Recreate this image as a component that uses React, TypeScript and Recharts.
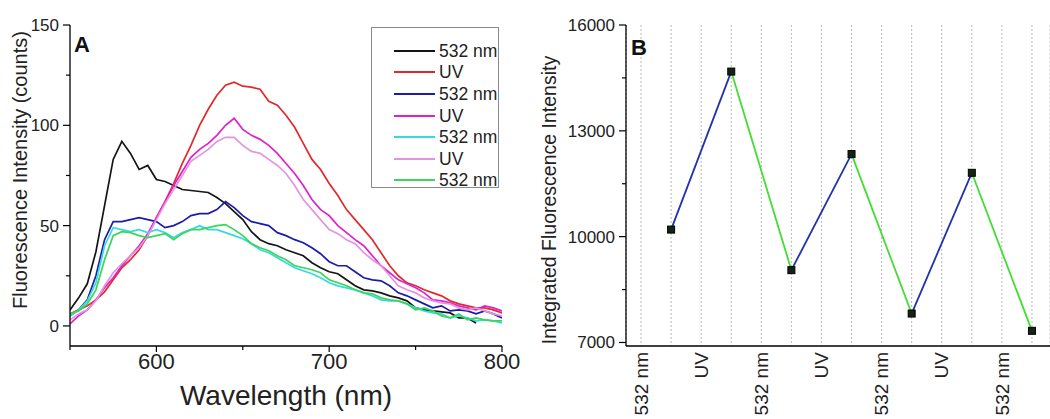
import React from "react";
import { LineChart, Line, XAxis, YAxis, Legend, CartesianGrid } from "recharts";

// Panel A: emission spectra, sampled every 5 nm
const wavelengths = [
  550, 555, 560, 565, 570, 575, 580, 585, 590, 595,
  600, 605, 610, 615, 620, 625, 630, 635, 640, 645,
  650, 655, 660, 665, 670, 675, 680, 685, 690, 695,
  700, 705, 710, 715, 720, 725, 730, 735, 740, 745,
  750, 755, 760, 765, 770, 775, 780, 785, 790, 795,
  800,
];

const black532 = [
  8, 14, 21, 37, 60, 83, 92, 86, 78, 80,
  73, 72, 70, 68, 67.5, 67, 66.5, 64, 61, 57,
  53, 47, 43, 41, 40, 38, 36.5, 35, 31.5, 29,
  27, 26, 23, 20, 18, 17.5, 16.5, 15, 14, 12.5,
  9, 8, 7.5, 7, 6.5, 4, 4, 1.5, null, null,
  null,
];
const redUV = [
  6, 8, 10, 13, 17, 23, 29, 33, 38, 45,
  54, 62, 71, 81, 90, 100, 108, 115, 120, 121.5,
  119.5, 119, 118, 112, 110, 105, 99, 91, 83, 78,
  71, 65, 58, 53, 48, 43, 36.5, 30, 25, 21.5,
  20, 18, 16.5, 15, 12.5, 11, 10, 9, 9, 8,
  6.5,
];
const blue532 = [
  5, 8, 13, 25, 43, 52, 52, 53, 54, 53,
  52, 49, 50, 52, 55, 56, 56, 58, 62, 59,
  55, 52, 51, 50, 46.5, 45, 43, 41.5, 39, 36,
  32, 30, 30, 27, 24, 23, 22.5, 20, 16.5, 15,
  13, 11, 9, 10, 7.5, 8, 7.5, 6, 7.5, 6,
  4,
];
const magentaUV = [
  1, 5, 8, 13, 19, 24, 30, 35, 40, 46,
  54, 62, 70, 77, 84, 88, 91, 95, 100, 103.5,
  98, 95, 93, 90, 86, 81, 76, 70, 63, 58,
  55, 50, 46.5, 43, 40, 35, 30, 26.5, 23, 21,
  19, 16.5, 13, 12.5, 11.5, 10, 9, 8, 10, 9,
  7.5,
];
const cyan532 = [
  5, 8, 12.5, 21.5, 40, 49, 48, 47, 48, 46.5,
  48, 46.5, 44, 46.5, 48, 50, 48, 48, 46.5, 45,
  43.5, 41, 38, 36.5, 34, 31.5, 29, 27.5, 26, 24,
  21.5, 20, 19, 18, 16.5, 15, 13, 12.5, 12.5, 11,
  9, 7.5, 6.5, 6, 4, 5, 4, 2.5, 3, 2.5,
  1.5,
];
const pinkUV = [
  3, 6, 8, 12.5, 20, 26.5, 31, 35, 39, 45,
  53, 61, 68, 75, 82, 85, 88, 92, 94, 94,
  90, 87, 86, 83, 80, 76, 70, 63, 58, 53,
  48, 46, 43, 41, 36.5, 33, 30, 25, 20, 18,
  16.5, 14, 12.5, 11.5, 11, 9, 8, 9, 7.5, 6,
  5,
];
const green532 = [
  6, 7.5, 11, 18, 33, 45, 47, 46.5, 45, 44,
  45, 46, 43, 46, 48, 48, 49, 50, 50.5, 48,
  45, 41, 39, 37.5, 35, 33, 30, 29, 28, 26.5,
  23, 21.5, 20, 18, 16.5, 16, 14, 13, 12.5, 11,
  8, 9, 7.5, 5, 4, 6, 3, 4, 3, 2.5,
  2.5,
];

const seriesA = [
  { key: "s1", name: "532 nm", color: "#151515", values: black532 },
  { key: "s2", name: "UV", color: "#e02a2a", values: redUV },
  { key: "s3", name: "532 nm", color: "#1c1ca8", values: blue532 },
  { key: "s4", name: "UV", color: "#dd22cc", values: magentaUV },
  { key: "s5", name: "532 nm", color: "#33dcdc", values: cyan532 },
  { key: "s6", name: "UV", color: "#e294e0", values: pinkUV },
  { key: "s7", name: "532 nm", color: "#3cd45a", values: green532 },
];

// Panel B: integrated intensity after each illumination step
const stepLabels = ["532 nm", "UV", "532 nm", "UV", "532 nm", "UV", "532 nm"];
const integrated = [10200, 14680, 9050, 12340, 7820, 11810, 7330];
const stepTicks = [0, 1, 2, 3, 4, 5, 6, 7, 8, 9, 10, 11, 12, 13];

const FONT = "'Liberation Sans', Arial, Helvetica, sans-serif";

const dataA = wavelengths.map((wl, i) => {
  const row: Record<string, number | null> = { wl };
  seriesA.forEach((s) => (row[s.key] = s.values[i]));
  return row;
});

// measurement k sits between the label ticks
const pointsB = integrated.map((v, k) => ({ x: 2 * k + 1, v }));
const segmentsB = pointsB.slice(0, -1).map((p, k) => ({
  color: k % 2 === 0 ? "#2233aa" : "#44dd33",
  data: [p, pointsB[k + 1]],
}));

const AYTick = ({ x, y, payload }: any) => {
  const major = payload.value % 50 === 0;
  return (
    <g>
      <line x1={x - (major ? 7 : 4)} x2={x} y1={y} y2={y} stroke="#000" strokeWidth={1.2} />
      {major && (
        <text x={x - 11} y={y} dy="0.35em" textAnchor="end" fontSize={17} fill="#222" fontFamily={FONT}>
          {payload.value}
        </text>
      )}
    </g>
  );
};

const AXTick = ({ x, y, payload }: any) => {
  const major = payload.value % 100 === 0;
  return (
    <g>
      <line x1={x} x2={x} y1={y} y2={y + (major ? 6 : 4)} stroke="#000" strokeWidth={1.2} />
      {major && (
        <text x={x} y={y + 23} textAnchor="middle" fontSize={22} fill="#222" fontFamily={FONT}>
          {payload.value}
        </text>
      )}
    </g>
  );
};

const BYTick = ({ x, y, payload }: any) => {
  const major = (payload.value - 7000) % 3000 === 0;
  return (
    <g>
      <line x1={x - (major ? 7 : 4)} x2={x} y1={y} y2={y} stroke="#000" strokeWidth={1.2} />
      {major && (
        <text x={x - 11} y={y} dy="0.35em" textAnchor="end" fontSize={17} fill="#222" fontFamily={FONT}>
          {payload.value}
        </text>
      )}
    </g>
  );
};

const BXTick = ({ x, y, payload }: any) => {
  const i = payload.value;
  if (i % 2 !== 0) return <g />;
  const ty = y + 6;
  return (
    <text
      x={x}
      y={ty}
      dy="0.35em"
      textAnchor="end"
      transform={`rotate(-90, ${x}, ${ty})`}
      fontSize={19}
      fill="#222"
      fontFamily={FONT}
    >
      {stepLabels[i / 2]}
    </text>
  );
};

const SquareDot = ({ cx, cy }: any) => (
  <rect x={cx - 3.5} y={cy - 3.5} width={7} height={7} fill="#142414" stroke="#000" strokeWidth={1} />
);

// legend keeps the plotting order (recharts would sort it by name)
const LegendBox = () => (
  <div
    style={{
      width: 128,
      height: 161,
      boxSizing: "border-box",
      border: "1px solid #8a8a8a",
      background: "#fff",
      paddingTop: 12,
      fontFamily: FONT,
    }}
  >
    {seriesA.map((s) => (
      <div key={s.key} style={{ display: "flex", alignItems: "center", height: 21.6 }}>
        <div style={{ marginLeft: 22, width: 41, height: 2, background: s.color }} />
        <span style={{ marginLeft: 4, fontSize: 17.5, color: "#222", lineHeight: "20px" }}>{s.name}</span>
      </div>
    ))}
  </div>
);

export default function App() {
  return (
    <div style={{ position: "absolute", left: 0, top: 0, width: 1050, height: 419, background: "#fff", overflow: "hidden" }}>
      <div style={{ position: "absolute", left: 0, top: 0 }}>
        <LineChart width={520} height={419} data={dataA} margin={{ top: 25, right: 18, bottom: 0, left: 0 }}>
          <XAxis
            dataKey="wl"
            type="number"
            domain={[550, 800]}
            ticks={[550, 600, 650, 700, 750, 800]}
            interval={0}
            tickSize={0}
            tickMargin={0}
            tick={<AXTick />}
            height={73}
            axisLine={{ stroke: "#000", strokeWidth: 1.3 }}
            allowDataOverflow
          />
          <XAxis xAxisId="top" orientation="top" type="number" dataKey="wl" domain={[550, 800]} height={0} tick={false} tickLine={false} axisLine={{ stroke: "#000", strokeWidth: 1.3 }} />
          <YAxis
            type="number"
            domain={[-10, 150]}
            ticks={[0, 25, 50, 75, 100, 125, 150]}
            interval={0}
            tickSize={0}
            tickMargin={0}
            tick={<AYTick />}
            width={70}
            axisLine={{ stroke: "#000", strokeWidth: 1.3 }}
            allowDataOverflow
          />
          <YAxis yAxisId="right" orientation="right" type="number" domain={[-10, 150]} width={0} tick={false} tickLine={false} axisLine={{ stroke: "#000", strokeWidth: 1.3 }} />
          {seriesA.map((s) => (
            <Line
              key={s.key}
              dataKey={s.key}
              name={s.name}
              stroke={s.color}
              strokeWidth={1.7}
              dot={false}
              activeDot={false}
              isAnimationActive={false}
            />
          ))}
          <Legend
            layout="vertical"
            align="center"
            verticalAlign="middle"
            content={<LegendBox />}
            wrapperStyle={{ left: 371, top: 27, width: 128, height: 161 }}
          />
        </LineChart>
      </div>

      <div style={{ position: "absolute", left: 520, top: 0 }}>
        <LineChart width={530} height={419} margin={{ top: 25, right: 0, bottom: 0, left: 0 }}>
          <CartesianGrid horizontal={false} vertical stroke="#b8b8b8" strokeDasharray="2 2" />
          <XAxis
            dataKey="x"
            type="number"
            domain={[-0.5, 13.6]}
            ticks={stepTicks}
            interval={0}
            tickSize={0}
            tickMargin={0}
            tickLine={false}
            tick={<BXTick />}
            height={73}
            axisLine={{ stroke: "#000", strokeWidth: 1.3 }}
            allowDataOverflow
          />
          <XAxis xAxisId="top" orientation="top" type="number" dataKey="x" domain={[-0.5, 13.6]} height={0} tick={false} tickLine={false} axisLine={{ stroke: "#000", strokeWidth: 1.3 }} />
          <YAxis
            type="number"
            domain={[6900, 16000]}
            ticks={[7000, 8500, 10000, 11500, 13000, 14500, 16000]}
            interval={0}
            tickSize={0}
            tickMargin={0}
            tick={<BYTick />}
            width={106}
            axisLine={{ stroke: "#000", strokeWidth: 1.3 }}
            allowDataOverflow
          />
          {segmentsB.map((seg, k) => (
            <Line
              key={k}
              data={seg.data}
              dataKey="v"
              stroke={seg.color}
              strokeWidth={1.8}
              dot={false}
              activeDot={false}
              isAnimationActive={false}
            />
          ))}
          <Line data={pointsB} dataKey="v" stroke="none" dot={<SquareDot />} activeDot={false} isAnimationActive={false} />
        </LineChart>
      </div>

      <svg width={1050} height={419} style={{ position: "absolute", left: 0, top: 0, pointerEvents: "none" }}>
        <text x={74} y={52} fontSize={22} fontWeight="bold" fontFamily={FONT} fill="#111">A</text>
        <text x={631} y={55} fontSize={22} fontWeight="bold" fontFamily={FONT} fill="#111">B</text>
        <text x={286} y={405} fontSize={28} textAnchor="middle" fontFamily={FONT} fill="#222">Wavelength (nm)</text>
        <text x={27} y={170} fontSize={20} textAnchor="middle" transform="rotate(-90, 27, 170)" fontFamily={FONT} fill="#222">
          Fluorescence Intensity (counts)
        </text>
        <text x={556} y={200} fontSize={19.5} textAnchor="middle" transform="rotate(-90, 556, 200)" fontFamily={FONT} fill="#222">
          Integrated Fluorescence Intensity
        </text>
      </svg>
    </div>
  );
}
